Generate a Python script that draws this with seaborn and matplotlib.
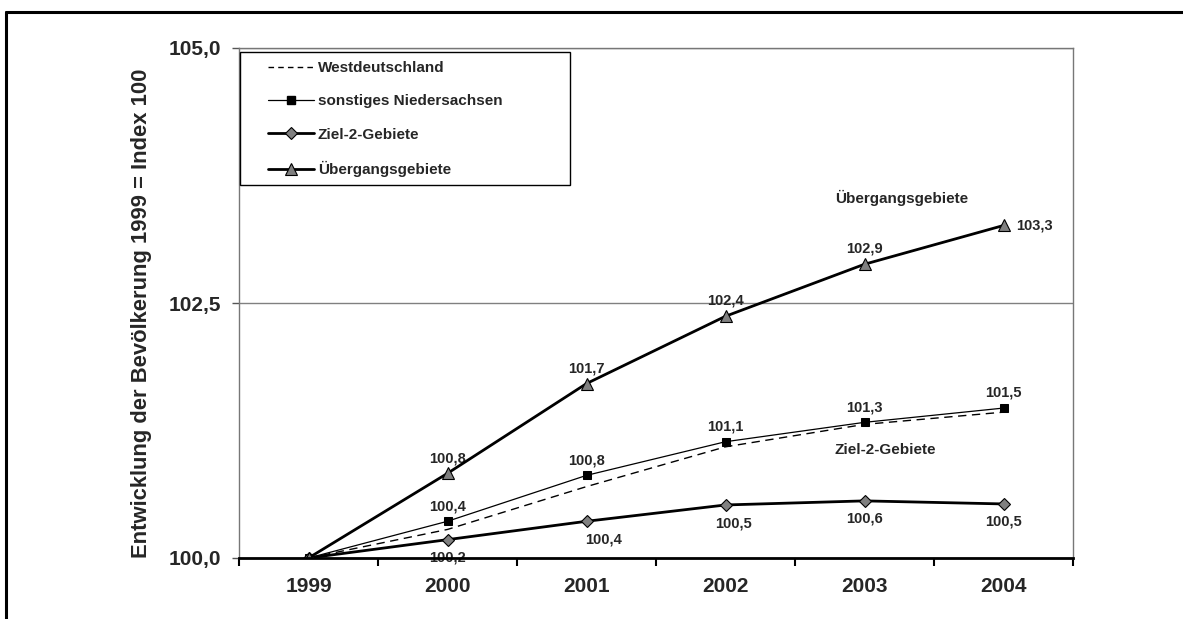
import numpy as np
import pandas as pd
import seaborn as sns
import matplotlib.pyplot as plt
from matplotlib.lines import Line2D
from matplotlib.patches import Rectangle
from matplotlib.ticker import FixedLocator, FuncFormatter

sns.set_style('white')
plt.rcParams['font.family'] = ['Liberation Sans', 'DejaVu Sans']
plt.rcParams['font.weight'] = 'bold'

# data
jahre = [1999, 2000, 2001, 2002, 2003, 2004]
westdeutschland = [100.0, 100.28, 100.70, 101.09, 101.31, 101.43]
sonstiges_nds = [100.0, 100.36, 100.81, 101.14, 101.33, 101.47]
ziel2 = [100.0, 100.18, 100.36, 100.52, 100.56, 100.53]
uebergang = [100.0, 100.83, 101.71, 102.37, 102.88, 103.26]

namen = ['Westdeutschland', 'sonstiges Niedersachsen', 'Ziel-2-Gebiete', 'Übergangsgebiete']
y_ticks = [100.0, 102.5, 105.0]

def fmt(v):
    return f'{v:.1f}'.replace('.', ',')

fig = plt.figure(figsize=(11.83, 6.19), dpi=100)
ax = fig.add_axes([239/1183, 1 - 558/619, (1073 - 239)/1183, (558 - 48)/619])

df = pd.DataFrame({'Jahr': jahre, 'West': westdeutschland, 'Sonst': sonstiges_nds,
                   'Ziel2': ziel2, 'Ueber': uebergang})

sns.lineplot(data=df, x='Jahr', y='West', ax=ax, color='black', lw=1.0,
             dashes=False, linestyle=(0, (6, 4)), zorder=3)
sns.lineplot(data=df, x='Jahr', y='Sonst', ax=ax, color='black', lw=0.9,
             marker='s', markersize=6, markerfacecolor='black',
             markeredgecolor='black', zorder=4)
sns.lineplot(data=df, x='Jahr', y='Ziel2', ax=ax, color='black', lw=2.0,
             marker='D', markersize=6.5, markerfacecolor='#808080',
             markeredgecolor='black', markeredgewidth=0.8, zorder=5)
sns.lineplot(data=df, x='Jahr', y='Ueber', ax=ax, color='black', lw=2.0,
             marker='^', markersize=8, markerfacecolor='#808080',
             markeredgecolor='black', markeredgewidth=0.8, zorder=6)

# data labels
for x, v in zip(jahre[1:], uebergang[1:]):
    if x == 2004:
        ax.annotate(fmt(v), (x, v), xytext=(9, 0), textcoords='offset points',
                    ha='left', va='center', fontsize=10.5, fontweight='bold')
    else:
        ax.annotate(fmt(v), (x, v), xytext=(0, 11), textcoords='offset points',
                    ha='center', va='center', fontsize=10.5, fontweight='bold')
for x, v in zip(jahre[1:], sonstiges_nds[1:]):
    ax.annotate(fmt(v), (x, v), xytext=(0, 11), textcoords='offset points',
                ha='center', va='center', fontsize=10.5, fontweight='bold')
for x, v in zip(jahre[1:], ziel2[1:]):
    dx = 12 if x == 2001 else (6 if x == 2002 else 0)
    ax.annotate(fmt(v), (x, v), xytext=(dx, -13), textcoords='offset points',
                ha='center', va='center', fontsize=10.5, fontweight='bold')

ax.text(2003.27, 103.53, 'Übergangsgebiete', ha='center', va='center',
        fontsize=11, fontweight='bold')
ax.text(2003.15, 101.06, 'Ziel-2-Gebiete', ha='center', va='center',
        fontsize=11, fontweight='bold')

# axes
ax.set_xlim(1998.5, 2004.5)
ax.set_ylim(100, 105)
ax.set_xticks(jahre)
ax.set_xticklabels([str(j) for j in jahre])
ax.xaxis.set_minor_locator(FixedLocator(np.arange(1998.5, 2005, 1)))
ax.tick_params(axis='x', which='major', length=0, pad=14, labelsize=15)
ax.tick_params(axis='x', which='minor', length=6, width=1.5, direction='out',
               color='black', bottom=True)
ax.set_yticks(y_ticks)
ax.yaxis.set_major_formatter(FuncFormatter(lambda v, p: fmt(v)))
ax.tick_params(axis='y', length=5, width=1, direction='out', pad=8,
               labelsize=15, color='#555555', left=True)
for lab in ax.get_xticklabels() + ax.get_yticklabels():
    lab.set_fontweight('bold')

ax.yaxis.grid(True, color='#808080', lw=1)
ax.xaxis.grid(False)
for s in ['left', 'right', 'top']:
    ax.spines[s].set_color('#777777')
    ax.spines[s].set_linewidth(1)
ax.spines['bottom'].set_color('black')
ax.spines['bottom'].set_linewidth(2)
ax.spines['bottom'].set_zorder(7)

ax.set_xlabel('')
ax.set_ylabel('Entwicklung der Bevölkerung 1999 = Index 100', fontsize=15.8,
              fontweight='bold')
ax.yaxis.set_label_coords(-0.104, 0.48)

# legend with its own frame
ax.add_patch(Rectangle((240/1183, 1 - 185/619), (570 - 240)/1183, (185 - 52)/619,
                       transform=fig.transFigure, fill=True, facecolor='white',
                       edgecolor='black', lw=1, zorder=8, clip_on=False))
handles = [
    Line2D([], [], color='black', lw=1.0, linestyle=(0, (4, 3))),
    Line2D([], [], color='black', lw=0.9, marker='s', markersize=6,
           markerfacecolor='black'),
    Line2D([], [], color='black', lw=2.0, marker='D', markersize=6.5,
           markerfacecolor='#808080', markeredgecolor='black', markeredgewidth=0.8),
    Line2D([], [], color='black', lw=2.0, marker='^', markersize=8,
           markerfacecolor='#808080', markeredgecolor='black', markeredgewidth=0.8),
]
leg = ax.legend(handles, namen, loc='upper left',
                bbox_to_anchor=(268/1183, 1 - 61/619), bbox_transform=fig.transFigure,
                frameon=False, fontsize=11, handlelength=3.0, handletextpad=0.25,
                labelspacing=1.27, borderpad=0, borderaxespad=0)
leg.set_zorder(9)
for t in leg.get_texts():
    t.set_fontweight('bold')

# outer border of the picture
fig.add_artist(Line2D([6/1183, 1.0], [1 - 12/619, 1 - 12/619], color='black', lw=2.2))
fig.add_artist(Line2D([6/1183, 6/1183], [0.0, 1 - 12/619], color='black', lw=2.2))

fig.savefig('out.png', dpi=100)
